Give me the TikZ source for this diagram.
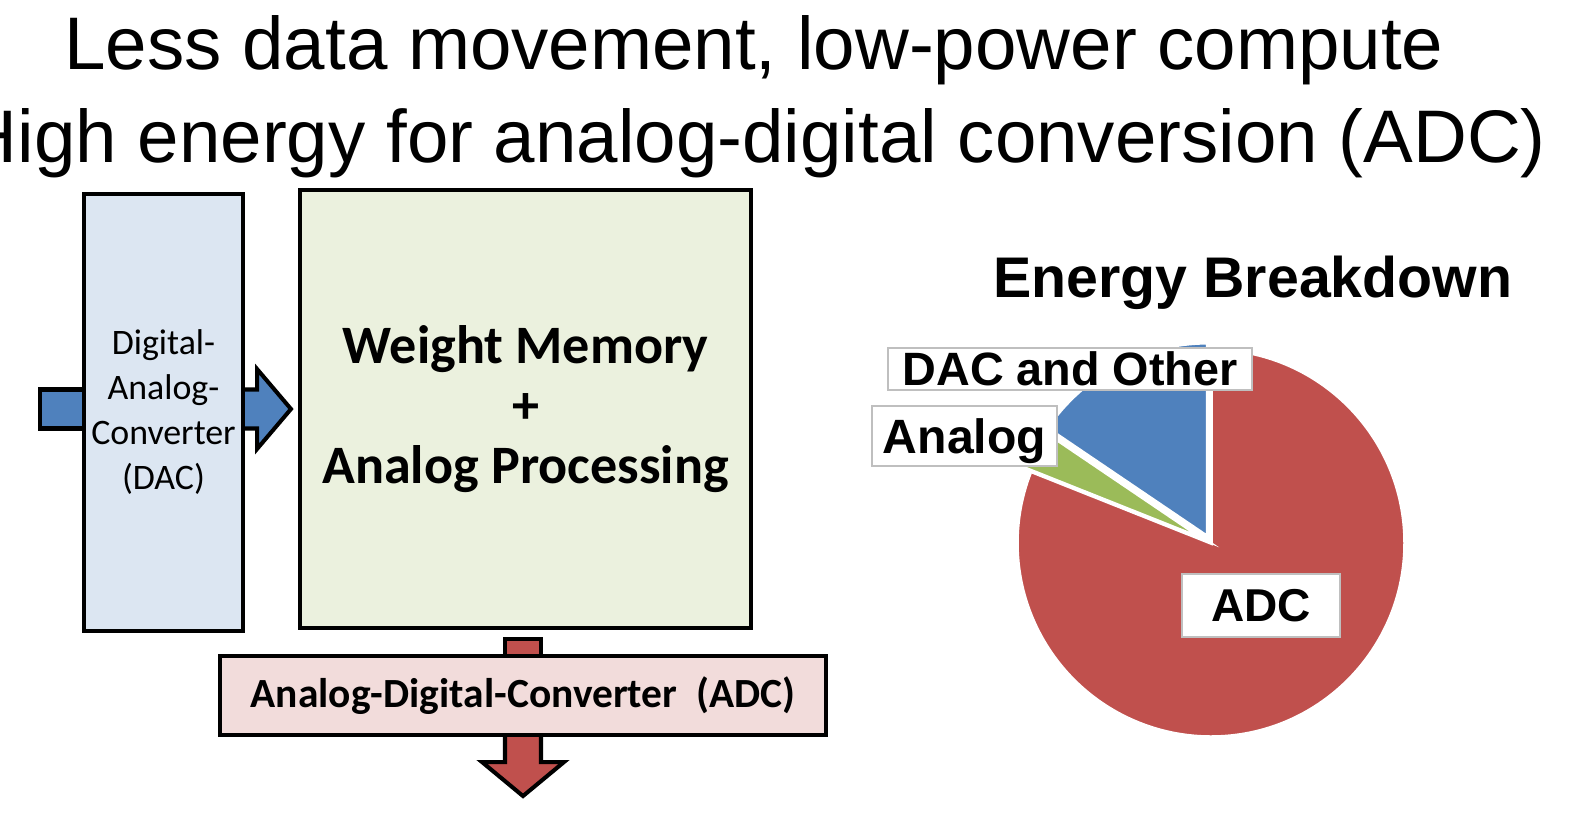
\documentclass[tikz,border=0pt]{standalone}
\usepackage{fontspec}
\setmainfont{Liberation Sans}
\newfontfamily\calibri{Carlito}
\usepackage{tikz}
\usetikzlibrary{calc,positioning}
\definecolor{dacfill}{HTML}{DCE6F2}
\definecolor{memfill}{HTML}{EBF1DE}
\definecolor{adcfill}{HTML}{F2DCDB}
\definecolor{piered}{HTML}{C0504D}
\definecolor{pieblue}{HTML}{4F81BD}
\definecolor{piegreen}{HTML}{9BBB59}
\definecolor{lblgray}{HTML}{BFBFBF}
\tikzset{
  blockbox/.style={draw, line width=1.15pt, inner sep=0pt, align=center},
  blockarrow/.style={draw, line width=1.15pt, miter limit=10},
  pielabel/.style={draw=lblgray, line width=0.6pt, fill=white, inner sep=0pt, text depth=0pt}
}

\begin{document}
\begin{tikzpicture}
\useasboundingbox (0,0) rectangle (15.76,-8.19);
\clip (0,0) rectangle (15.76,-8.19);
\node[anchor=base] (ttl1) at (7.54,-0.69) {\fontsize{21.2}{26}\selectfont Less data movement, low-power compute};
\node[anchor=base] (ttl2) at (7.55,-1.62) {\fontsize{21.2}{26}\selectfont High energy for analog-digital conversion (ADC)};

\node[blockbox, fill=dacfill, minimum width=1.59cm, minimum height=4.37cm,
  font=\calibri\fontsize{10.2}{12.8}\selectfont] (dac) at (1.635,-4.125) {Digital-\\Analog-\\Converter\\(DAC)};%DAC
\node[blockbox, fill=memfill, minimum width=4.51cm, minimum height=4.38cm,
  font=\calibri\bfseries\fontsize{15.4}{17.1}\selectfont] (mem) at (5.255,-4.09) {Weight Memory\\+\\Analog Processing};
\node[blockbox, fill=adcfill, minimum width=6.06cm, minimum height=0.79cm,
  font=\calibri\bfseries\fontsize{11.8}{14}\selectfont] (adc) at (5.23,-6.955) {Analog-Digital-Converter\ \ (ADC)};%ADC

\draw[blockarrow, fill=pieblue] ($(dac.west |- mem.west)+(0,0.195)$) -- ++(-0.42,0) -- ++(0,-0.39) -- ++(0.42,0);%入力
\draw[blockarrow, fill=pieblue] ($(dac.east |- mem.west)+(0,0.195)$) -- ++(0.12,0) -- ++(0,0.205)
  -- ($(mem.west)+(-0.07,0)$) -- ($(dac.east |- mem.west)+(0.12,-0.40)$) -- ++(0,0.205) -- ++(-0.12,0);
\draw[blockarrow, fill=piered] ($(adc.north)+(-0.18,0)$) -- ($(adc.north |- mem.south)+(-0.18,-0.09)$)
  -- ($(adc.north |- mem.south)+(0.18,-0.09)$) -- ($(adc.north)+(0.18,0)$);
\draw[blockarrow, fill=piered] ($(adc.south)+(-0.18,0)$) -- ++(0,-0.25) -- ++(-0.23,0) -- ++(0.41,-0.34)
  -- ++(0.41,0.34) -- ++(-0.23,0) -- ++(0,0.25);%出力

\node[anchor=base, font=\bfseries\fontsize{16.3}{19}\selectfont] (ebtitle) at (12.53,-2.97) {Energy Breakdown};
\coordinate (pc) at (12.11,-5.43);%円の中心
\foreach \a/\b/\c/\dx/\dy in {90/-201.7/piered/0/0, 145.9/158.3/piegreen/-0.062/0.033, 90/145.9/pieblue/-0.033/0.062}
  \filldraw[fill=\c, draw=white, line width=1pt] ($(pc)+(\dx,\dy)$) -- +(\a:1.94) arc[start angle=\a, end angle=\b, radius=1.94] -- cycle;
\node[pielabel, minimum width=3.64cm, minimum height=0.42cm, font=\bfseries\fontsize{13.3}{15}\selectfont] (lblother) at (10.70,-3.69) {DAC and Other};
\node[pielabel, minimum width=1.85cm, minimum height=0.60cm, font=\bfseries\fontsize{13.7}{16}\selectfont] (lblanalog) at (9.645,-4.36) {Analog};
\node[pielabel, minimum width=1.58cm, minimum height=0.63cm, font=\bfseries\fontsize{13.1}{15}\selectfont] (lbladc) at (12.61,-6.055) {ADC};
\end{tikzpicture}
\end{document}
